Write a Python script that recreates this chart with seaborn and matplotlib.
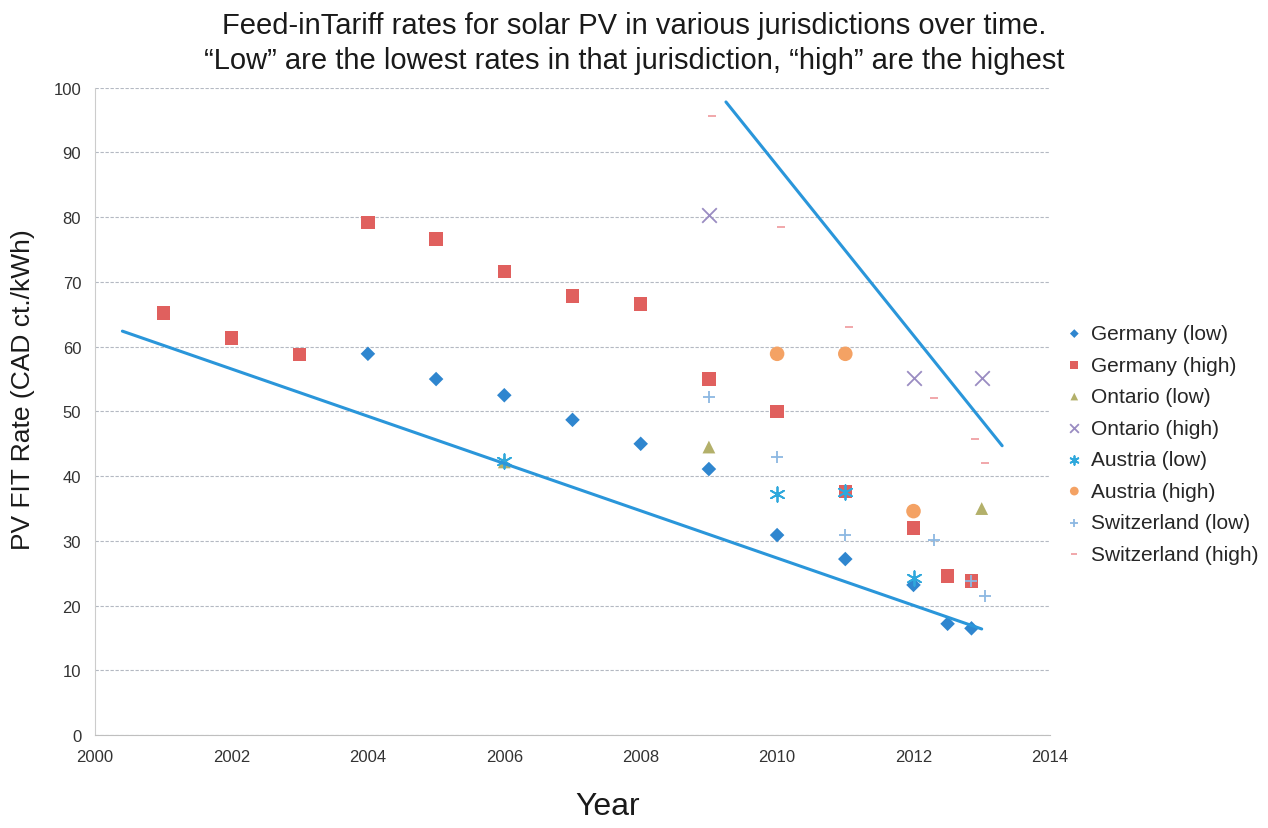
import pandas as pd
import matplotlib
matplotlib.use("Agg")
import matplotlib.pyplot as plt
import seaborn as sns

# Values (years, CAD ct./kWh)
germany_low_x = [2004, 2005, 2006, 2007, 2008, 2009, 2010, 2011, 2012, 2012.5, 2012.85]
germany_low_y = [58.9, 55.0, 52.5, 48.7, 45.0, 41.1, 30.9, 27.2, 23.2, 17.2, 16.5]

germany_high_x = [2001, 2002, 2003, 2004, 2005, 2006, 2007, 2008, 2009, 2010, 2011, 2012, 2012.5, 2012.85]
germany_high_y = [65.2, 61.3, 58.8, 79.2, 76.6, 71.6, 67.8, 66.6, 55.0, 50.0, 37.6, 32.0, 24.6, 23.8]

ontario_low_x = [2006, 2009, 2013]
ontario_low_y = [42.2, 44.5, 35.0]

ontario_high_x = [2009, 2012, 2013]
ontario_high_y = [80.4, 55.1, 55.1]

austria_low_x = [2006, 2010, 2011, 2012]
austria_low_y = [42.3, 37.3, 37.5, 24.2]

austria_high_x = [2010, 2011, 2012]
austria_high_y = [58.9, 58.9, 34.6]

swiss_low_x = [2009, 2010, 2011, 2012.3, 2012.85, 2013.05]
swiss_low_y = [52.2, 43.0, 30.9, 30.1, 23.8, 21.5]

swiss_high_x = [2009.05, 2010.05, 2011.05, 2012.3, 2012.9, 2013.05]
swiss_high_y = [95.7, 78.5, 63.0, 52.1, 45.7, 42.0]

# hand-drawn trend lines (start/end)
low_trend_x = [2000.4, 2013.0]
low_trend_y = [62.4, 16.4]
high_trend_x = [2009.25, 2013.3]
high_trend_y = [97.8, 44.7]

series = [
    ("Germany (low)", germany_low_x, germany_low_y, "D", "#2f86cf", 55),
    ("Germany (high)", germany_high_x, germany_high_y, "s", "#e0605e", 95),
    ("Ontario (low)", ontario_low_x, ontario_low_y, "^", "#b3b06a", 85),
    ("Ontario (high)", ontario_high_x, ontario_high_y, "x", "#9a8cc2", 110),
    ("Austria (low)", austria_low_x, austria_low_y, (6, 2, 0), "#2fa8dc", 110),
    ("Austria (high)", austria_high_x, austria_high_y, "o", "#f4a264", 110),
    ("Switzerland (low)", swiss_low_x, swiss_low_y, "+", "#8cb8e2", 80),
    ("Switzerland (high)", swiss_high_x, swiss_high_y, "_", "#f0a0a4", 40),
]
line_markers = ["x", "+", "_", (6, 2, 0)]

sns.set_style("white")
plt.rcParams["font.family"] = ["Liberation Sans", "DejaVu Sans"]

fig = plt.figure(figsize=(12.68, 8.29), dpi=100)
ax = fig.add_axes([0.075, 0.112, 0.753, 0.781])

for name, xs, ys, marker, color, size in series:
    df = pd.DataFrame({"Year": xs, "Rate": ys})
    is_line = marker in line_markers
    sns.scatterplot(data=df, x="Year", y="Rate", marker=marker, color=color,
                    s=size, linewidth=1.3 if is_line else 0,
                    edgecolor=color if is_line else "none",
                    label=name, ax=ax, zorder=3)

sns.lineplot(x=low_trend_x, y=low_trend_y, color="#2a96da", linewidth=2.2, ax=ax, zorder=4)
sns.lineplot(x=high_trend_x, y=high_trend_y, color="#2a96da", linewidth=2.2, ax=ax, zorder=4)

ax.set_xlim(2000, 2014)
ax.set_ylim(0, 100)
ax.set_xticks(range(2000, 2015, 2))
ax.set_yticks(range(0, 101, 10))
ax.tick_params(labelsize=12, length=0, pad=10, labelcolor="#333333")
ax.yaxis.grid(True, color="#b4b9c2", linewidth=0.8, linestyle=(0, (3, 1.5)))
ax.xaxis.grid(False)
for side in ["top", "right"]:
    ax.spines[side].set_visible(False)
ax.spines["left"].set_color("#cccccc")
ax.spines["bottom"].set_color("#bfbfbf")

ax.set_xlabel("Year", fontsize=23, color="#1a1a1a")
ax.xaxis.set_label_coords(0.537, -0.086)
ax.set_ylabel("PV FIT Rate (CAD ct./kWh)", fontsize=19, color="#1a1a1a")
ax.yaxis.set_label_coords(-0.063, 0.535)
fig.suptitle("Feed-inTariff rates for solar PV in various jurisdictions over time.\n"
             "\u201cLow\u201d are the lowest rates in that jurisdiction, \u201chigh\u201d are the highest",
             fontsize=21, y=0.985, linespacing=1.3, color="#1a1a1a")

leg = ax.legend(loc="center left", bbox_to_anchor=(0.995, 0.45), frameon=False,
                fontsize=15, markerscale=0.6, handletextpad=0.3, labelspacing=0.6,
                handlelength=1.0)

fig.savefig("out.png", dpi=100)
